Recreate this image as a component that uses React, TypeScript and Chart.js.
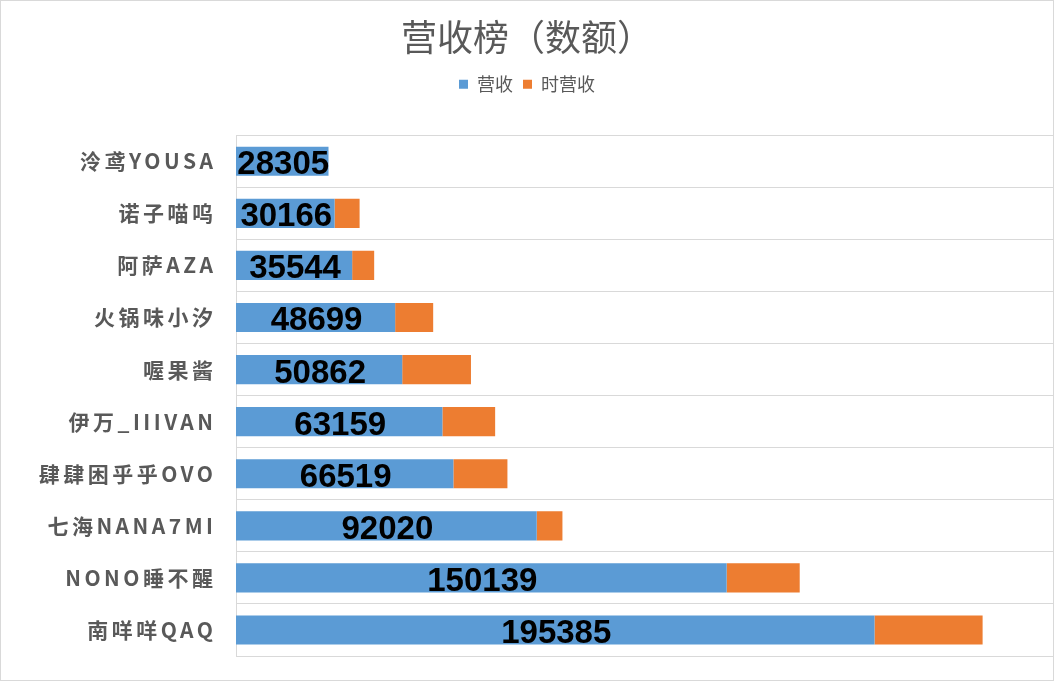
import React, { useEffect, useRef } from 'react';
import { Chart, registerables } from 'chart.js';

Chart.register(...registerables);

const titleText = '营收榜（数额）';
const seriesNames = ['营收', '时营收'];
const categories = [
  '泠鸢YOUSA',
  '诺子喵呜',
  '阿萨AZA',
  '火锅味小汐',
  '喔果酱',
  '伊万_IIIVAN',
  '肆肆困乎乎OVO',
  '七海NANA7MI',
  'NONO睡不醒',
  '南咩咩QAQ',
];
const revenue = [28305, 30166, 35544, 48699, 50862, 63159, 66519, 92020, 150139, 195385];
const timeRevenue = [0, 7656, 6737, 11637, 21040, 16140, 16537, 7870, 22356, 33075];
const xMax = 250000;

const GRAY_TEXT = '#595959';
const GRID = '#d9d9d9';
const BLUE = '#5B9BD5';
const ORANGE = '#ED7D31';

export default function App() {
  const ref = useRef<HTMLCanvasElement>(null);

  useEffect(() => {
    const labelsPlugin = {
      id: 'customLabels',
      afterDatasetsDraw(chart: any) {
        const ctx = chart.ctx as CanvasRenderingContext2D;
        const meta = chart.getDatasetMeta(0);
        ctx.save();
        ctx.font = 'bold 33px "Liberation Sans", Arial, sans-serif';
        ctx.fillStyle = '#000000';
        ctx.textAlign = 'center';
        ctx.textBaseline = 'alphabetic';
        meta.data.forEach((bar: any, i: number) => {
          const cx = (bar.x + bar.base) / 2;
          ctx.fillText(String(revenue[i]), cx + 1, bar.y + 13);
        });
        ctx.restore();
      },
      afterDraw(chart: any) {
        const ctx = chart.ctx as CanvasRenderingContext2D;
        const y = chart.scales.y;
        ctx.save();
        ctx.font = 'bold 21px "Noto Sans CJK SC", sans-serif';
        ctx.fillStyle = GRAY_TEXT;
        ctx.textAlign = 'right';
        ctx.textBaseline = 'middle';
        (ctx as any).letterSpacing = '3.5px';
        categories.forEach((c, i) => {
          ctx.fillText(c, chart.chartArea.left - 19.5, y.getPixelForValue(i));
        });
        ctx.restore();
      },
    };

    const chart = new Chart(ref.current!, {
      type: 'bar',
      data: {
        labels: categories,
        datasets: [
          {
            label: seriesNames[0],
            data: revenue,
            backgroundColor: BLUE,
            borderWidth: 0,
            barPercentage: 0.56,
            categoryPercentage: 1,
          },
          {
            label: seriesNames[1],
            data: timeRevenue,
            backgroundColor: ORANGE,
            borderWidth: 0,
            barPercentage: 0.56,
            categoryPercentage: 1,
          },
        ],
      },
      options: {
        indexAxis: 'y',
        responsive: true,
        maintainAspectRatio: false,
        animation: false,
        layout: { padding: { left: 0, right: 0, top: 0, bottom: 24 } },
        scales: {
          x: {
            stacked: true,
            min: 0,
            max: xMax,
            position: 'top',
            display: true,
            grid: { display: false },
            border: { display: false },
            ticks: { display: false },
            afterFit: (s: any) => {
              s.height = 32;
            },
          },
          y: {
            stacked: true,
            grid: { color: GRID, lineWidth: 1, drawTicks: false, offset: true },
            border: { display: true, color: GRID, width: 1 },
            ticks: { display: false },
            afterFit: (s: any) => {
              s.width = 235;
            },
          },
        },
        plugins: {
          title: {
            display: true,
            text: titleText,
            color: GRAY_TEXT,
            font: { family: '"Noto Sans CJK SC", sans-serif', size: 36, weight: 'normal', lineHeight: 1.2 },
            padding: { top: 15, bottom: 6 },
          },
          legend: {
            display: true,
            position: 'top',
            labels: {
              color: GRAY_TEXT,
              font: { family: '"Noto Sans CJK SC", sans-serif', size: 18 },
              boxWidth: 9,
              boxHeight: 9,
              padding: 10,
            },
          },
          tooltip: { enabled: false },
        },
      },
      plugins: [labelsPlugin],
    } as any);

    return () => chart.destroy();
  }, []);

  return (
    <div
      style={{
        position: 'absolute',
        left: 0,
        top: 0,
        width: 1054,
        height: 681,
        border: '1px solid #d9d9d9',
        boxSizing: 'border-box',
        background: '#ffffff',
      }}
    >
      <canvas ref={ref} />
    </div>
  );
}
